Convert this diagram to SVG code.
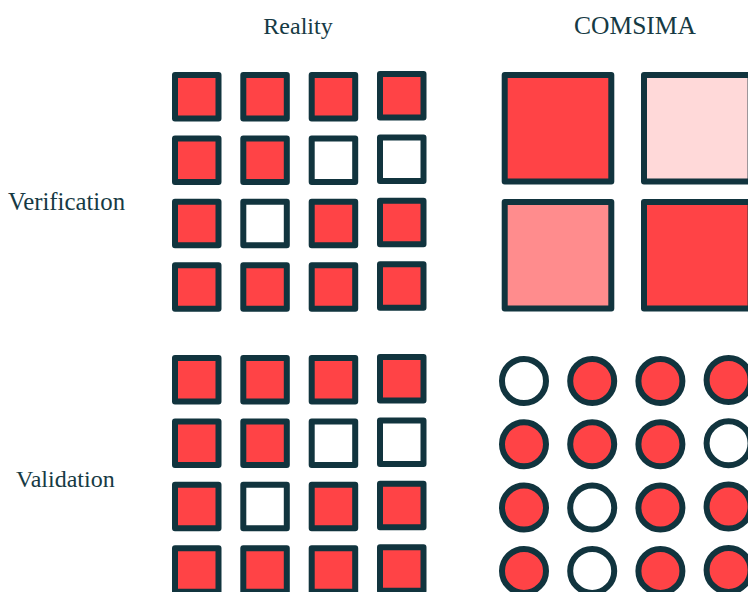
<svg xmlns="http://www.w3.org/2000/svg" width="748" height="592" viewBox="0 0 748 592">
<style>
.lbl{font-family:"Liberation Serif","Times New Roman",serif;font-size:24px;fill:#163a44}
.s{stroke:#11343e;stroke-width:6;stroke-linejoin:round}
.r{fill:#ff4346}
.w{fill:#ffffff}
.p{fill:#ff8c8d}
.l{fill:#ffd9d9}
</style>
<rect width="748" height="592" fill="#ffffff"/>
<g id="labels">
<text class="lbl" x="298" y="34" text-anchor="middle">Reality</text>
<text class="lbl" x="635" y="34" text-anchor="middle" style="font-size:25.5px">COMSIMA</text>
<text class="lbl" x="8" y="210" style="font-size:24.8px">Verification</text>
<text class="lbl" x="16" y="487">Validation</text>
</g>
<g id="reality-verification">
<rect class="s r" x="175" y="75" width="43.5" height="43.5"/>
<rect class="s r" x="243.3" y="75" width="43.5" height="43.5"/>
<rect class="s r" x="311.7" y="75" width="43.5" height="43.5"/>
<rect class="s r" x="380" y="74" width="43.5" height="43.5"/>
<rect class="s r" x="175" y="138.4" width="43.5" height="43.5"/>
<rect class="s r" x="243.3" y="138.4" width="43.5" height="43.5"/>
<rect class="s w" x="311.7" y="138.4" width="43.5" height="43.5"/>
<rect class="s w" x="380" y="137.4" width="43.5" height="43.5"/>
<rect class="s r" x="175" y="201.8" width="43.5" height="43.5"/>
<rect class="s w" x="243.3" y="201.8" width="43.5" height="43.5"/>
<rect class="s r" x="311.7" y="201.8" width="43.5" height="43.5"/>
<rect class="s r" x="380" y="200.8" width="43.5" height="43.5"/>
<rect class="s r" x="175" y="265.2" width="43.5" height="43.5"/>
<rect class="s r" x="243.3" y="265.2" width="43.5" height="43.5"/>
<rect class="s r" x="311.7" y="265.2" width="43.5" height="43.5"/>
<rect class="s r" x="380" y="264.2" width="43.5" height="43.5"/>
</g>
<g id="comsima-verification">
<rect class="s r" x="504.7" y="75" width="106.6" height="106.6"/>
<rect class="s l" x="644" y="75" width="106.6" height="106.6"/>
<rect class="s p" x="504.7" y="202" width="106.6" height="106.6"/>
<rect class="s r" x="644" y="202" width="106.6" height="106.6"/>
</g>
<g id="reality-validation">
<rect class="s r" x="175" y="358" width="43.5" height="43.5"/>
<rect class="s r" x="243.3" y="358" width="43.5" height="43.5"/>
<rect class="s r" x="311.7" y="358" width="43.5" height="43.5"/>
<rect class="s r" x="380" y="357" width="43.5" height="43.5"/>
<rect class="s r" x="175" y="421.4" width="43.5" height="43.5"/>
<rect class="s r" x="243.3" y="421.4" width="43.5" height="43.5"/>
<rect class="s w" x="311.7" y="421.4" width="43.5" height="43.5"/>
<rect class="s w" x="380" y="420.4" width="43.5" height="43.5"/>
<rect class="s r" x="175" y="484.8" width="43.5" height="43.5"/>
<rect class="s w" x="243.3" y="484.8" width="43.5" height="43.5"/>
<rect class="s r" x="311.7" y="484.8" width="43.5" height="43.5"/>
<rect class="s r" x="380" y="483.8" width="43.5" height="43.5"/>
<rect class="s r" x="175" y="548.2" width="43.5" height="43.5"/>
<rect class="s r" x="243.3" y="548.2" width="43.5" height="43.5"/>
<rect class="s r" x="311.7" y="548.2" width="43.5" height="43.5"/>
<rect class="s r" x="380" y="547.2" width="43.5" height="43.5"/>
</g>
<g id="comsima-validation">
<circle class="s w" cx="524" cy="381" r="22"/>
<circle class="s r" cx="592.2" cy="381" r="22"/>
<circle class="s r" cx="660.4" cy="381" r="22"/>
<circle class="s r" cx="728.6" cy="380" r="22"/>
<circle class="s r" cx="524" cy="444.3" r="22"/>
<circle class="s r" cx="592.2" cy="444.3" r="22"/>
<circle class="s r" cx="660.4" cy="444.3" r="22"/>
<circle class="s w" cx="728.6" cy="443.3" r="22"/>
<circle class="s r" cx="524" cy="507.6" r="22"/>
<circle class="s w" cx="592.2" cy="507.6" r="22"/>
<circle class="s r" cx="660.4" cy="507.6" r="22"/>
<circle class="s r" cx="728.6" cy="506.6" r="22"/>
<circle class="s r" cx="524" cy="570.9" r="22"/>
<circle class="s w" cx="592.2" cy="570.9" r="22"/>
<circle class="s r" cx="660.4" cy="570.9" r="22"/>
<circle class="s r" cx="728.6" cy="569.9" r="22"/>
</g>
</svg>
